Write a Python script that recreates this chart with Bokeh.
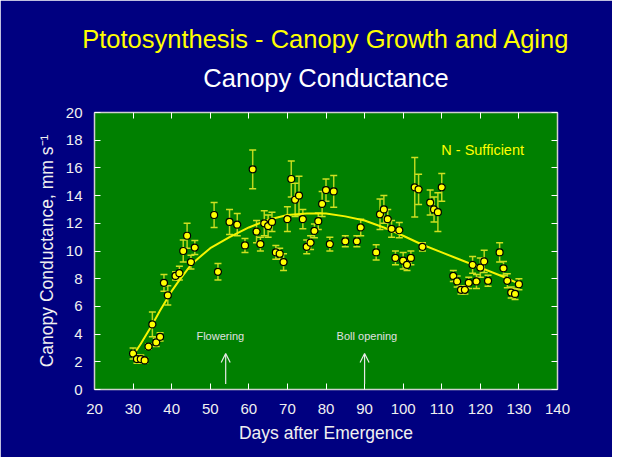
from bokeh.plotting import figure
from bokeh.models import (ColumnDataSource, Whisker, TeeHead, Label, LinearAxis,
                          SingleIntervalTicker, Arrow, OpenHead, Range1d, Title)
from bokeh.embed import file_html
from bokeh.resources import INLINE

# ---- data ----
days = [30, 31, 32, 33, 34, 35, 36, 37, 38, 39, 41, 42, 43, 44, 45, 46, 51, 52, 55, 57,
        59, 61, 62, 63, 64, 65, 66, 67, 68, 69, 70, 71, 72, 73, 74, 75, 76, 77, 78, 79,
        80, 81, 82, 85, 88, 89, 93, 94, 95, 96, 97, 98, 99, 100, 101, 102, 103, 104, 105,
        107, 108, 109, 110, 113, 114, 115, 116, 117, 118, 119, 120, 121, 122, 125, 126,
        127, 128, 129, 130]
conductance = [2.6, 2.2, 2.2, 2.1, 3.1, 4.7, 3.4, 3.8, 7.7, 6.8, 8.2, 8.4, 10.0, 11.1, 9.2,
               10.25, 12.6, 8.5, 12.1, 11.9, 10.4, 15.9, 11.4, 10.5, 12.0, 11.8, 12.1, 9.9,
               9.8, 9.2, 12.3, 15.2, 13.7, 14.0, 12.3, 10.3, 10.6, 11.45, 12.15, 13.4, 14.4,
               10.5, 14.3, 10.7, 10.7, 11.7, 9.9, 12.65, 13.0, 12.3, 11.6, 9.5, 11.5, 9.3,
               9.0, 9.5, 14.6, 14.45, 10.3, 13.5, 13.0, 12.8, 14.6, 8.2, 7.8, 7.2, 7.2, 7.7,
               9.0, 7.8, 8.8, 9.25, 7.85, 9.9, 8.75, 7.85, 7.0, 6.9, 7.6]
error = [0.4, 0.3, 0.3, 0.2, 0.2, 0.9, 0.3, 0.3, 0.6, 0.7, 0.3, 0.5, 0.8, 0.9, 0.5, 0.5,
         0.9, 0.6, 0.9, 0.8, 0.5, 1.4, 0.8, 0.5, 0.9, 0.8, 0.7, 0.5, 0.4, 0.6, 0.9, 1.3,
         1.2, 1.4, 0.7, 0.5, 0.5, 0.5, 0.6, 0.9, 0.8, 0.5, 1.15, 0.4, 0.4, 0.6, 0.55, 1.1,
         1.0, 0.7, 0.6, 0.5, 0.55, 0.6, 0.4, 0.5, 2.15, 1.1, 0.3, 0.9, 0.9, 1.4, 1.0, 0.4,
         0.4, 0.3, 0.3, 0.4, 0.6, 0.5, 0.7, 0.8, 0.4, 0.7, 0.5, 0.5, 0.4, 0.4, 0.4]

# fitted curve
curve_days = [30, 32, 35, 37, 40, 42, 45, 47, 50, 55, 60, 65, 70, 75, 80, 85, 90, 95,
              100, 105, 110, 115, 120, 125, 130]
curve_vals = [2.45, 3.3, 4.7, 5.7, 7.1, 7.9, 9.0, 9.5, 10.2, 11.0, 11.7, 12.25, 12.6, 12.7,
              12.7, 12.5, 12.2, 11.7, 11.1, 10.45, 9.9, 9.35, 8.8, 8.25, 7.65]

events = ["Flowering", "Boll opening"]
event_days = [54, 90]
event_label_days = [52.6, 90.6]

title1 = "Ptotosynthesis - Canopy Growth and Aging"
title2 = "Canopy Conductance"
x_title = "Days after Emergence"
y_title = "Canopy Conductance, mm s\u207b\u00b9"
treatment = "N - Sufficient"

FONT = "Liberation Sans"
NAVY = "#000080"
GREEN = "#008000"
AXIS = "#d0d0d0"
TXT = "#f0f0f0"

src = ColumnDataSource(dict(
    x=days, y=conductance,
    lo=[v - e for v, e in zip(conductance, error)],
    hi=[v + e for v, e in zip(conductance, error)],
))

p = figure(width=612, height=457, output_backend="svg", toolbar_location=None,
           x_range=Range1d(20, 140), y_range=Range1d(0, 20),
           min_border_left=94, min_border_right=55, min_border_top=112,
           min_border_bottom=68)
p.background_fill_color = GREEN
p.border_fill_color = NAVY
p.outline_line_color = None
p.grid.visible = False

def style_axis(ax, labels=True):
    ax.axis_line_color = AXIS
    ax.axis_line_width = 1.5
    ax.major_tick_line_color = "#ffffff"
    ax.major_tick_in = 6
    ax.major_tick_out = 0
    ax.minor_tick_line_color = None
    ax.major_label_text_font = FONT
    ax.major_label_text_font_size = "15px" if labels else "0px"
    ax.major_label_text_color = TXT if labels else None
    ax.major_label_standoff = 0 if not labels else 5
    ax.axis_label_text_font = FONT
    ax.axis_label_text_font_size = "17.5px"
    ax.axis_label_text_font_style = "normal"
    ax.axis_label_text_color = TXT

p.xaxis.ticker = SingleIntervalTicker(interval=10)
p.yaxis.ticker = SingleIntervalTicker(interval=2)
p.xaxis.axis_label = x_title
p.yaxis.axis_label = y_title
style_axis(p.xaxis[0])
style_axis(p.yaxis[0])
p.xaxis.major_label_standoff = 10
p.xaxis.axis_label_standoff = 6
p.yaxis.major_label_standoff = 8
p.yaxis.axis_label_standoff = 6

top = LinearAxis(ticker=SingleIntervalTicker(interval=10))
right = LinearAxis(ticker=SingleIntervalTicker(interval=2))
style_axis(top, labels=False)
style_axis(right, labels=False)
p.add_layout(top, "above")
p.add_layout(right, "right")

# titles: first added sits closest to the plot
p.add_layout(Title(text=title2, align="center", text_font=FONT, text_font_size="25.5px",
                   text_font_style="normal", text_color="#ffffff", standoff=34,
                   offset=-3), "above")
p.add_layout(Title(text=title1, align="center", text_font=FONT, text_font_size="25.5px",
                   text_font_style="normal", text_color="#ffff00", standoff=-16,
                   offset=-4), "above")

# fitted curve
p.line(curve_days, curve_vals, line_color="#f5f500", line_width=2)

# error bars
wcol = "#cfe020"
p.add_layout(Whisker(source=src, base="x", lower="lo", upper="hi",
                     line_color=wcol, line_width=1.5, line_alpha=0.9,
                     lower_head=TeeHead(size=7, line_color=wcol, line_width=1.5),
                     upper_head=TeeHead(size=7, line_color=wcol, line_width=1.5)))

# points
p.scatter("x", "y", source=src, size=7, fill_color="#ffff00", line_color="black",
          line_width=1.2)

# event arrows and labels
for name, d, ld in zip(events, event_days, event_label_days):
    p.add_layout(Arrow(x_start=d, y_start=0.4, x_end=d, y_end=2.6,
                       line_color="#e8e8e8", line_width=1.2,
                       end=OpenHead(size=9, line_color="#e8e8e8", line_width=1.2)))
    p.add_layout(Label(x=ld, y=3.84, text=name, text_font=FONT, text_font_size="11px",
                       text_color="#e0e0e0", text_align="center",
                       text_baseline="middle"))

p.add_layout(Label(x=120.6, y=17.3, text=treatment, text_font=FONT,
                   text_font_size="14.5px", text_color="#ffff00", text_align="center",
                   text_baseline="middle"))

open("out.html", "w").write(file_html(p, INLINE))
